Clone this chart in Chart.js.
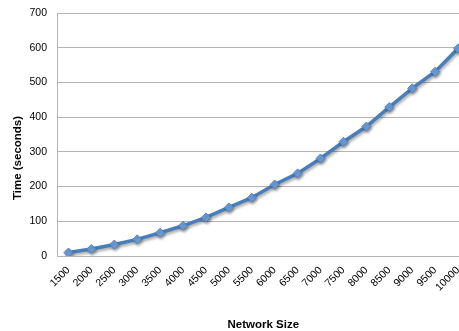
<!DOCTYPE html>
<html>
<head>
<meta charset="utf-8">
<script src="https://cdn.jsdelivr.net/npm/chart.js@4/dist/chart.umd.min.js"></script>
<style>
  html, body { margin: 0; padding: 0; background: #fff; overflow: hidden; }
  #wrap { width: 475px; height: 331px; }
  canvas { display: block; }
</style>
</head>
<body>
<div id="wrap"><canvas id="c" width="475" height="331"></canvas></div>
<script>
// Network sizes on the horizontal axis
const networkSizes = ['1500', '2000', '2500', '3000', '3500', '4000', '4500', '5000', '5500',
                      '6000', '6500', '7000', '7500', '8000', '8500', '9000', '9500', '10000'];
// Run time in seconds for each network size
const timeSeconds = [10, 20, 33, 48, 67, 87, 111, 140, 168, 206, 238, 281, 329, 373, 429, 483, 531, 598];
// Value axis range
const yMin = 0;
const yMax = 700;
const yStep = 100;

const FONT = "'Liberation Sans', Arial, sans-serif";
const GRID = '#b4b4b4';
const CLEAR = 'rgba(0,0,0,0)';

// Soft drop shadow under the series line and markers
const shadowPlugin = {
  id: 'lineShadow',
  beforeDatasetsDraw(chart) {
    const ctx = chart.ctx;
    ctx.save();
    ctx.shadowColor = 'rgba(0,0,0,0.35)';
    ctx.shadowBlur = 3;
    ctx.shadowOffsetX = 1;
    ctx.shadowOffsetY = 2;
  },
  afterDatasetsDraw(chart) {
    chart.ctx.restore();
  }
};

// Vertical axis title, rotated
const yTitlePlugin = {
  id: 'yTitle',
  afterDraw(chart) {
    const ctx = chart.ctx;
    ctx.save();
    ctx.translate(18, 158);
    ctx.rotate(-Math.PI / 2);
    ctx.font = "bold 11.5px " + FONT;
    ctx.fillStyle = '#000';
    ctx.textAlign = 'center';
    ctx.textBaseline = 'middle';
    ctx.fillText('Time (seconds)', 0, 0);
    ctx.restore();
  }
};

new Chart(document.getElementById('c'), {
  type: 'line',
  data: {
    labels: networkSizes,
    datasets: [{
      data: timeSeconds,
      borderColor: '#4a7ebb',
      borderWidth: 3.5,
      pointStyle: 'rectRot',
      pointRadius: 4.5,
      pointBackgroundColor: '#6e9fdb',
      pointBorderColor: '#5486c4',
      pointBorderWidth: 1,
      tension: 0,
      fill: false
    }]
  },
  options: {
    responsive: false,
    animation: false,
    events: [],
    layout: { padding: { top: 13, right: 1.5, bottom: 0, left: 0 } },
    plugins: {
      legend: { display: false },
      tooltip: { enabled: false }
    },
    scales: {
      x: {
        type: 'category',
        offset: true,
        grid: { display: true, drawOnChartArea: false, drawTicks: true, tickLength: 7, tickColor: CLEAR, color: CLEAR },
        border: { display: false },
        ticks: {
          autoSkip: false,
          minRotation: 45,
          maxRotation: 45,
          padding: 1,
          color: '#000',
          font: { family: FONT, size: 10.5 }
        },
        title: {
          display: true,
          text: 'Network Size',
          color: '#000',
          font: { family: FONT, size: 11.5, weight: 'bold' },
          padding: { top: 4, bottom: -1 }
        },
        afterFit(scale) { scale.height = 75; }
      },
      y: {
        min: yMin,
        max: yMax,
        grid: { color: GRID, lineWidth: 1, drawTicks: true, tickLength: 5, tickColor: CLEAR },
        border: { display: true, color: GRID, width: 1 },
        ticks: {
          stepSize: yStep,
          padding: 5,
          color: '#000',
          font: { family: FONT, size: 10.5 }
        },
        afterFit(scale) { scale.width = 57; }
      }
    }
  },
  plugins: [shadowPlugin, yTitlePlugin]
});
</script>
</body>
</html>
